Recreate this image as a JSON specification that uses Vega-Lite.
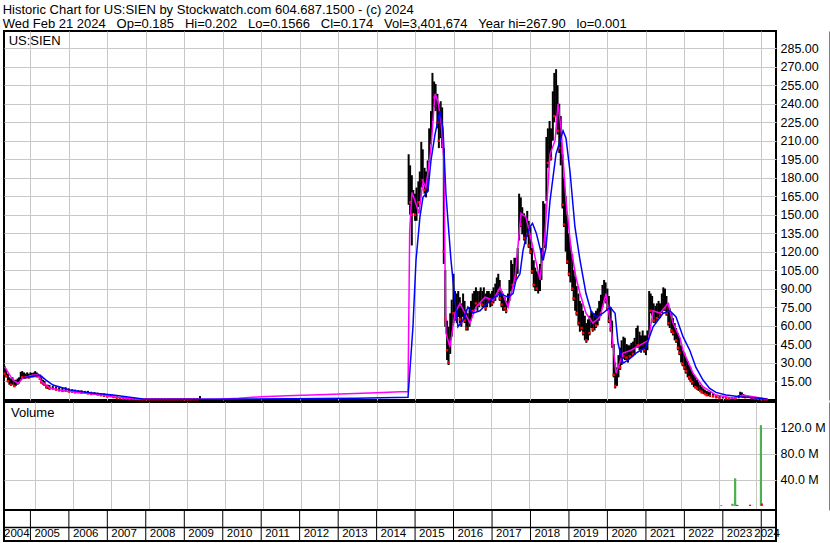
{
"$schema": "https://vega.github.io/schema/vega-lite/v6.json",
"padding": {"left": 0, "top": 4, "right": 0, "bottom": 0},
"autosize": {"type": "pad"},
"background": "white",
"spacing": 2,
"bounds": "flush",
"resolve": {"scale": {"color": "independent"}},
"title": {"text": ["Historic Chart for US:SIEN by Stockwatch.com 604.687.1500 - (c) 2024", "Wed Feb 21 2024\u00a0\u00a0\u00a0Op=0.185\u00a0\u00a0\u00a0Hi=0.202\u00a0\u00a0\u00a0Lo=0.1566\u00a0\u00a0\u00a0Cl=0.174\u00a0\u00a0\u00a0Vol=3,401,674\u00a0\u00a0\u00a0Year hi=267.90\u00a0\u00a0\u00a0lo=0.001"], "anchor": "start", "frame": "bounds", "fontSize": 13, "lineHeight": 14, "font": "Liberation Sans", "fontWeight": "normal", "color": "black", "offset": -1, "dx": 2},
"datasets": {
"bars": [
{"d":"2004-05-01","lo":19,"hi":27,"c":21,"dir":"down"},
{"d":"2004-05-15","lo":18,"hi":25,"c":19,"dir":"down"},
{"d":"2004-06-01","lo":14,"hi":21,"c":15,"dir":"down"},
{"d":"2004-06-15","lo":12,"hi":18,"c":17,"dir":"up"},
{"d":"2004-07-01","lo":11,"hi":17,"c":12,"dir":"down"},
{"d":"2004-07-15","lo":12,"hi":18,"c":17,"dir":"up"},
{"d":"2004-08-01","lo":10,"hi":16,"c":11,"dir":"down"},
{"d":"2004-08-15","lo":11,"hi":16,"c":15,"dir":"up"},
{"d":"2004-09-01","lo":12,"hi":17,"c":16,"dir":"up"},
{"d":"2004-09-15","lo":13,"hi":18,"c":17,"dir":"up"},
{"d":"2004-10-01","lo":16,"hi":22.5,"c":22,"dir":"up"},
{"d":"2004-10-15","lo":17,"hi":23,"c":18,"dir":"down"},
{"d":"2004-11-01","lo":17,"hi":22,"c":21,"dir":"up"},
{"d":"2004-11-15","lo":17,"hi":21,"c":18,"dir":"down"},
{"d":"2004-12-01","lo":18,"hi":22,"c":21,"dir":"up"},
{"d":"2004-12-15","lo":17,"hi":21,"c":18,"dir":"down"},
{"d":"2005-01-01","lo":18,"hi":22,"c":21,"dir":"up"},
{"d":"2005-01-15","lo":18,"hi":21.5,"c":19,"dir":"down"},
{"d":"2005-02-01","lo":18,"hi":22,"c":21,"dir":"up"},
{"d":"2005-02-15","lo":19,"hi":23,"c":22,"dir":"up"},
{"d":"2005-03-01","lo":18,"hi":22,"c":19,"dir":"down"},
{"d":"2005-03-15","lo":18,"hi":21,"c":20,"dir":"up"},
{"d":"2005-04-01","lo":16,"hi":20,"c":17,"dir":"down"},
{"d":"2005-04-15","lo":13,"hi":18,"c":14,"dir":"down"},
{"d":"2005-05-01","lo":12,"hi":16,"c":13,"dir":"down"},
{"d":"2005-05-15","lo":11,"hi":15,"c":12,"dir":"down"},
{"d":"2005-06-01","lo":9,"hi":12,"c":10,"dir":"down"},
{"d":"2005-06-15","lo":8.5,"hi":12,"c":11,"dir":"up"},
{"d":"2005-07-01","lo":8,"hi":11.7,"c":9,"dir":"down"},
{"d":"2005-08-01","lo":8,"hi":11,"c":10,"dir":"up"},
{"d":"2005-09-01","lo":7.5,"hi":10.5,"c":8,"dir":"down"},
{"d":"2005-10-01","lo":6.5,"hi":10,"c":9,"dir":"up"},
{"d":"2005-11-01","lo":6.3,"hi":9.5,"c":7,"dir":"down"},
{"d":"2005-12-01","lo":6.3,"hi":10,"c":9,"dir":"up"},
{"d":"2006-01-01","lo":6,"hi":9,"c":6.5,"dir":"down"},
{"d":"2006-02-01","lo":5.5,"hi":8.3,"c":7.5,"dir":"up"},
{"d":"2006-03-01","lo":5.3,"hi":8,"c":5.8,"dir":"down"},
{"d":"2006-04-01","lo":5,"hi":7.5,"c":7,"dir":"up"},
{"d":"2006-05-01","lo":5,"hi":7.5,"c":5.5,"dir":"down"},
{"d":"2006-06-01","lo":4.8,"hi":7,"c":6.5,"dir":"up"},
{"d":"2006-07-01","lo":4.5,"hi":7,"c":5,"dir":"down"},
{"d":"2006-08-01","lo":4,"hi":6.3,"c":4.5,"dir":"down"},
{"d":"2006-09-01","lo":3.8,"hi":6,"c":5.5,"dir":"up"},
{"d":"2006-10-01","lo":3.6,"hi":5.5,"c":4,"dir":"down"},
{"d":"2006-11-01","lo":3.2,"hi":5.3,"c":3.5,"dir":"down"},
{"d":"2006-12-01","lo":2.5,"hi":5,"c":3,"dir":"down"},
{"d":"2007-01-01","lo":2,"hi":4.5,"c":2.5,"dir":"down"},
{"d":"2007-02-01","lo":1.8,"hi":4,"c":3.5,"dir":"up"},
{"d":"2007-03-01","lo":1.5,"hi":3.5,"c":2,"dir":"down"},
{"d":"2007-04-01","lo":1,"hi":2.5,"c":1.2,"dir":"down"},
{"d":"2007-05-01","lo":0.8,"hi":2,"c":1,"dir":"down"},
{"d":"2007-06-01","lo":0.5,"hi":1.8,"c":0.7,"dir":"down"},
{"d":"2007-07-01","lo":0.4,"hi":1.5,"c":0.5,"dir":"down"},
{"d":"2007-08-01","lo":0.3,"hi":1.2,"c":0.4,"dir":"down"},
{"d":"2007-09-01","lo":0.2,"hi":0.9,"c":0.3,"dir":"down"},
{"d":"2007-10-01","lo":0.2,"hi":0.7,"c":0.25,"dir":"down"},
{"d":"2007-11-01","lo":0.15,"hi":0.6,"c":0.2,"dir":"down"},
{"d":"2007-12-01","lo":0.1,"hi":0.5,"c":0.15,"dir":"down"},
{"d":"2008-01-01","lo":0.1,"hi":0.4,"c":0.2,"dir":"down"},
{"d":"2008-02-01","lo":0.1,"hi":0.4,"c":0.2,"dir":"down"},
{"d":"2008-03-01","lo":0.1,"hi":0.35,"c":0.2,"dir":"down"},
{"d":"2008-04-01","lo":0.1,"hi":0.35,"c":0.2,"dir":"down"},
{"d":"2008-05-01","lo":0.1,"hi":0.35,"c":0.2,"dir":"down"},
{"d":"2008-06-01","lo":0.1,"hi":0.35,"c":0.2,"dir":"down"},
{"d":"2008-07-01","lo":0.1,"hi":0.35,"c":0.2,"dir":"down"},
{"d":"2008-08-01","lo":0.1,"hi":0.35,"c":0.2,"dir":"down"},
{"d":"2008-09-01","lo":0.1,"hi":0.35,"c":0.2,"dir":"down"},
{"d":"2008-10-01","lo":0.1,"hi":0.35,"c":0.2,"dir":"down"},
{"d":"2008-11-01","lo":0.1,"hi":0.35,"c":0.2,"dir":"down"},
{"d":"2008-12-01","lo":0.1,"hi":0.35,"c":0.2,"dir":"down"},
{"d":"2009-01-01","lo":0.1,"hi":0.35,"c":0.2,"dir":"down"},
{"d":"2009-02-01","lo":0.1,"hi":0.35,"c":0.2,"dir":"down"},
{"d":"2009-03-01","lo":0.1,"hi":0.35,"c":0.2,"dir":"down"},
{"d":"2009-04-01","lo":0.1,"hi":0.35,"c":0.2,"dir":"down"},
{"d":"2009-05-01","lo":0.1,"hi":0.35,"c":0.2,"dir":"down"},
{"d":"2009-05-30","lo":0.2,"hi":2.8,"c":0.3,"dir":"up"},
{"d":"2014-11-01","lo":158,"hi":199,"c":180,"dir":"up"},
{"d":"2014-11-15","lo":150,"hi":190,"c":160,"dir":"down"},
{"d":"2014-12-01","lo":125,"hi":182,"c":150,"dir":"down"},
{"d":"2014-12-15","lo":151,"hi":170,"c":165,"dir":"up"},
{"d":"2015-01-01","lo":145,"hi":167,"c":150,"dir":"down"},
{"d":"2015-01-15","lo":145,"hi":172,"c":168,"dir":"up"},
{"d":"2015-02-01","lo":156,"hi":177,"c":160,"dir":"down"},
{"d":"2015-02-15","lo":161,"hi":185,"c":182,"dir":"up"},
{"d":"2015-03-01","lo":172,"hi":209,"c":200,"dir":"up"},
{"d":"2015-03-15","lo":174,"hi":203,"c":178,"dir":"down"},
{"d":"2015-04-01","lo":167,"hi":188,"c":170,"dir":"down"},
{"d":"2015-04-15","lo":164,"hi":185,"c":180,"dir":"up"},
{"d":"2015-05-01","lo":169,"hi":194,"c":190,"dir":"up"},
{"d":"2015-05-15","lo":194,"hi":220,"c":215,"dir":"up"},
{"d":"2015-06-01","lo":207,"hi":234,"c":230,"dir":"up"},
{"d":"2015-06-15","lo":226,"hi":265,"c":255,"dir":"up"},
{"d":"2015-07-01","lo":237,"hi":258,"c":245,"dir":"down"},
{"d":"2015-07-15","lo":234,"hi":256,"c":252,"dir":"up"},
{"d":"2015-08-01","lo":220,"hi":248,"c":225,"dir":"down"},
{"d":"2015-08-15","lo":204,"hi":240,"c":210,"dir":"down"},
{"d":"2015-09-01","lo":212,"hi":242,"c":235,"dir":"up"},
{"d":"2015-09-15","lo":204,"hi":237,"c":206,"dir":"down"},
{"d":"2015-10-01","lo":110,"hi":204,"c":120,"dir":"down"},
{"d":"2015-10-15","lo":59,"hi":105,"c":65,"dir":"down"},
{"d":"2015-11-01","lo":32,"hi":64,"c":40,"dir":"down"},
{"d":"2015-11-15","lo":28,"hi":59,"c":30,"dir":"down"},
{"d":"2015-12-01","lo":37,"hi":70,"c":62,"dir":"up"},
{"d":"2015-12-15","lo":51,"hi":81,"c":75,"dir":"up"},
{"d":"2016-01-01","lo":62,"hi":102,"c":70,"dir":"down"},
{"d":"2016-01-15","lo":64,"hi":88,"c":80,"dir":"up"},
{"d":"2016-02-01","lo":62,"hi":86,"c":66,"dir":"down"},
{"d":"2016-02-15","lo":67,"hi":88,"c":84,"dir":"up"},
{"d":"2016-03-01","lo":62,"hi":83,"c":65,"dir":"down"},
{"d":"2016-03-15","lo":59,"hi":78,"c":62,"dir":"down"},
{"d":"2016-04-01","lo":67,"hi":86,"c":82,"dir":"up"},
{"d":"2016-04-15","lo":62,"hi":80,"c":64,"dir":"down"},
{"d":"2016-05-01","lo":56,"hi":73,"c":58,"dir":"down"},
{"d":"2016-05-15","lo":56,"hi":70,"c":66,"dir":"up"},
{"d":"2016-06-01","lo":59,"hi":75,"c":72,"dir":"up"},
{"d":"2016-06-15","lo":64,"hi":80,"c":78,"dir":"up"},
{"d":"2016-07-01","lo":70,"hi":86,"c":72,"dir":"down"},
{"d":"2016-07-15","lo":72,"hi":88,"c":86,"dir":"up"},
{"d":"2016-08-01","lo":75,"hi":91,"c":78,"dir":"down"},
{"d":"2016-08-15","lo":72,"hi":88,"c":85,"dir":"up"},
{"d":"2016-09-01","lo":75,"hi":88,"c":77,"dir":"down"},
{"d":"2016-09-15","lo":78,"hi":91,"c":89,"dir":"up"},
{"d":"2016-10-01","lo":75,"hi":88,"c":77,"dir":"down"},
{"d":"2016-10-15","lo":75,"hi":91,"c":88,"dir":"up"},
{"d":"2016-11-01","lo":72,"hi":86,"c":74,"dir":"down"},
{"d":"2016-11-15","lo":75,"hi":88,"c":86,"dir":"up"},
{"d":"2016-12-01","lo":78,"hi":88,"c":80,"dir":"down"},
{"d":"2016-12-15","lo":75,"hi":86,"c":84,"dir":"up"},
{"d":"2017-01-01","lo":76,"hi":88,"c":78,"dir":"down"},
{"d":"2017-01-15","lo":78,"hi":91,"c":89,"dir":"up"},
{"d":"2017-02-01","lo":80,"hi":94,"c":92,"dir":"up"},
{"d":"2017-02-15","lo":83,"hi":99,"c":97,"dir":"up"},
{"d":"2017-03-01","lo":86,"hi":102,"c":88,"dir":"down"},
{"d":"2017-03-15","lo":80,"hi":97,"c":82,"dir":"down"},
{"d":"2017-04-01","lo":75,"hi":88,"c":77,"dir":"down"},
{"d":"2017-04-15","lo":72,"hi":86,"c":84,"dir":"up"},
{"d":"2017-05-01","lo":72,"hi":83,"c":74,"dir":"down"},
{"d":"2017-05-15","lo":70,"hi":80,"c":72,"dir":"down"},
{"d":"2017-06-01","lo":75,"hi":86,"c":84,"dir":"up"},
{"d":"2017-06-15","lo":80,"hi":97,"c":95,"dir":"up"},
{"d":"2017-07-01","lo":88,"hi":113,"c":108,"dir":"up"},
{"d":"2017-07-15","lo":91,"hi":110,"c":93,"dir":"down"},
{"d":"2017-08-01","lo":94,"hi":115,"c":112,"dir":"up"},
{"d":"2017-08-15","lo":97,"hi":115,"c":99,"dir":"down"},
{"d":"2017-09-01","lo":102,"hi":123,"c":120,"dir":"up"},
{"d":"2017-09-15","lo":129,"hi":167,"c":160,"dir":"up"},
{"d":"2017-10-01","lo":140,"hi":164,"c":142,"dir":"down"},
{"d":"2017-10-15","lo":134,"hi":156,"c":150,"dir":"up"},
{"d":"2017-11-01","lo":129,"hi":151,"c":131,"dir":"down"},
{"d":"2017-11-15","lo":126,"hi":148,"c":145,"dir":"up"},
{"d":"2017-12-01","lo":132,"hi":153,"c":134,"dir":"down"},
{"d":"2017-12-15","lo":123,"hi":145,"c":125,"dir":"down"},
{"d":"2018-01-01","lo":118,"hi":140,"c":120,"dir":"down"},
{"d":"2018-01-15","lo":102,"hi":123,"c":104,"dir":"down"},
{"d":"2018-02-01","lo":91,"hi":113,"c":93,"dir":"down"},
{"d":"2018-02-15","lo":88,"hi":107,"c":104,"dir":"up"},
{"d":"2018-03-01","lo":88,"hi":104,"c":90,"dir":"down"},
{"d":"2018-03-15","lo":86,"hi":102,"c":100,"dir":"up"},
{"d":"2018-04-01","lo":88,"hi":110,"c":108,"dir":"up"},
{"d":"2018-04-15","lo":97,"hi":123,"c":120,"dir":"up"},
{"d":"2018-05-01","lo":113,"hi":161,"c":155,"dir":"up"},
{"d":"2018-05-15","lo":123,"hi":159,"c":126,"dir":"down"},
{"d":"2018-06-01","lo":161,"hi":213,"c":208,"dir":"up"},
{"d":"2018-06-15","lo":188,"hi":220,"c":192,"dir":"down"},
{"d":"2018-07-01","lo":194,"hi":226,"c":222,"dir":"up"},
{"d":"2018-07-15","lo":194,"hi":220,"c":196,"dir":"down"},
{"d":"2018-08-01","lo":210,"hi":250,"c":245,"dir":"up"},
{"d":"2018-08-15","lo":225,"hi":265,"c":230,"dir":"down"},
{"d":"2018-09-01","lo":230,"hi":268,"c":260,"dir":"up"},
{"d":"2018-09-15","lo":215,"hi":255,"c":218,"dir":"down"},
{"d":"2018-10-01","lo":200,"hi":240,"c":204,"dir":"down"},
{"d":"2018-10-15","lo":190,"hi":230,"c":226,"dir":"up"},
{"d":"2018-11-01","lo":155,"hi":199,"c":158,"dir":"down"},
{"d":"2018-11-15","lo":140,"hi":180,"c":142,"dir":"down"},
{"d":"2018-12-01","lo":120,"hi":165,"c":160,"dir":"up"},
{"d":"2018-12-15","lo":110,"hi":150,"c":112,"dir":"down"},
{"d":"2019-01-01","lo":100,"hi":135,"c":102,"dir":"down"},
{"d":"2019-01-15","lo":95,"hi":125,"c":122,"dir":"up"},
{"d":"2019-02-01","lo":88,"hi":118,"c":90,"dir":"down"},
{"d":"2019-02-15","lo":80,"hi":105,"c":82,"dir":"down"},
{"d":"2019-03-01","lo":72,"hi":100,"c":97,"dir":"up"},
{"d":"2019-03-15","lo":68,"hi":92,"c":70,"dir":"down"},
{"d":"2019-04-01","lo":60,"hi":86,"c":62,"dir":"down"},
{"d":"2019-04-15","lo":55,"hi":80,"c":78,"dir":"up"},
{"d":"2019-05-01","lo":56,"hi":78,"c":58,"dir":"down"},
{"d":"2019-05-15","lo":52,"hi":72,"c":54,"dir":"down"},
{"d":"2019-06-01","lo":48,"hi":68,"c":66,"dir":"up"},
{"d":"2019-06-15","lo":46,"hi":62,"c":48,"dir":"down"},
{"d":"2019-07-01","lo":48,"hi":65,"c":63,"dir":"up"},
{"d":"2019-07-15","lo":52,"hi":68,"c":54,"dir":"down"},
{"d":"2019-08-01","lo":58,"hi":72,"c":70,"dir":"up"},
{"d":"2019-08-15","lo":55,"hi":70,"c":57,"dir":"down"},
{"d":"2019-09-01","lo":56,"hi":70,"c":68,"dir":"up"},
{"d":"2019-09-15","lo":58,"hi":72,"c":60,"dir":"down"},
{"d":"2019-10-01","lo":60,"hi":74,"c":72,"dir":"up"},
{"d":"2019-10-15","lo":64,"hi":80,"c":78,"dir":"up"},
{"d":"2019-11-01","lo":68,"hi":85,"c":70,"dir":"down"},
{"d":"2019-11-15","lo":75,"hi":93,"c":91,"dir":"up"},
{"d":"2019-12-01","lo":80,"hi":97,"c":95,"dir":"up"},
{"d":"2019-12-15","lo":78,"hi":95,"c":80,"dir":"down"},
{"d":"2020-01-01","lo":72,"hi":90,"c":74,"dir":"down"},
{"d":"2020-01-15","lo":62,"hi":84,"c":64,"dir":"down"},
{"d":"2020-02-01","lo":55,"hi":75,"c":57,"dir":"down"},
{"d":"2020-02-15","lo":42,"hi":64,"c":44,"dir":"down"},
{"d":"2020-03-01","lo":18,"hi":45,"c":20,"dir":"down"},
{"d":"2020-03-15","lo":9,"hi":30,"c":11,"dir":"down"},
{"d":"2020-04-01","lo":11,"hi":26,"c":24,"dir":"up"},
{"d":"2020-04-15","lo":18,"hi":36,"c":34,"dir":"up"},
{"d":"2020-05-01","lo":24,"hi":42,"c":26,"dir":"down"},
{"d":"2020-05-15","lo":28,"hi":48,"c":46,"dir":"up"},
{"d":"2020-06-01","lo":33,"hi":51,"c":35,"dir":"down"},
{"d":"2020-06-15","lo":32,"hi":50,"c":48,"dir":"up"},
{"d":"2020-07-01","lo":32,"hi":45,"c":34,"dir":"down"},
{"d":"2020-07-15","lo":30,"hi":44,"c":42,"dir":"up"},
{"d":"2020-08-01","lo":33,"hi":44,"c":35,"dir":"down"},
{"d":"2020-08-15","lo":34,"hi":46,"c":44,"dir":"up"},
{"d":"2020-09-01","lo":35,"hi":47,"c":37,"dir":"down"},
{"d":"2020-09-15","lo":36,"hi":50,"c":48,"dir":"up"},
{"d":"2020-10-01","lo":42,"hi":58,"c":56,"dir":"up"},
{"d":"2020-10-15","lo":42,"hi":60,"c":44,"dir":"down"},
{"d":"2020-11-01","lo":40,"hi":55,"c":53,"dir":"up"},
{"d":"2020-11-15","lo":38,"hi":52,"c":40,"dir":"down"},
{"d":"2020-12-01","lo":40,"hi":56,"c":54,"dir":"up"},
{"d":"2020-12-15","lo":38,"hi":52,"c":40,"dir":"down"},
{"d":"2021-01-01","lo":36,"hi":52,"c":50,"dir":"up"},
{"d":"2021-01-15","lo":40,"hi":56,"c":54,"dir":"up"},
{"d":"2021-02-01","lo":52,"hi":88,"c":84,"dir":"up"},
{"d":"2021-02-15","lo":70,"hi":86,"c":72,"dir":"down"},
{"d":"2021-03-01","lo":68,"hi":84,"c":82,"dir":"up"},
{"d":"2021-03-15","lo":62,"hi":78,"c":64,"dir":"down"},
{"d":"2021-04-01","lo":62,"hi":76,"c":74,"dir":"up"},
{"d":"2021-04-15","lo":64,"hi":78,"c":66,"dir":"down"},
{"d":"2021-05-01","lo":66,"hi":80,"c":78,"dir":"up"},
{"d":"2021-05-15","lo":66,"hi":78,"c":68,"dir":"down"},
{"d":"2021-06-01","lo":70,"hi":86,"c":84,"dir":"up"},
{"d":"2021-06-15","lo":72,"hi":91,"c":88,"dir":"up"},
{"d":"2021-07-01","lo":72,"hi":90,"c":74,"dir":"down"},
{"d":"2021-07-15","lo":68,"hi":84,"c":70,"dir":"down"},
{"d":"2021-08-01","lo":60,"hi":78,"c":62,"dir":"down"},
{"d":"2021-08-15","lo":58,"hi":74,"c":72,"dir":"up"},
{"d":"2021-09-01","lo":54,"hi":70,"c":56,"dir":"down"},
{"d":"2021-09-15","lo":52,"hi":66,"c":54,"dir":"down"},
{"d":"2021-10-01","lo":48,"hi":62,"c":60,"dir":"up"},
{"d":"2021-10-15","lo":46,"hi":58,"c":48,"dir":"down"},
{"d":"2021-11-01","lo":40,"hi":54,"c":42,"dir":"down"},
{"d":"2021-11-15","lo":36,"hi":50,"c":38,"dir":"down"},
{"d":"2021-12-01","lo":30,"hi":44,"c":42,"dir":"up"},
{"d":"2021-12-15","lo":27,"hi":40,"c":29,"dir":"down"},
{"d":"2022-01-01","lo":24,"hi":38,"c":26,"dir":"down"},
{"d":"2022-01-15","lo":21,"hi":34,"c":23,"dir":"down"},
{"d":"2022-02-01","lo":18,"hi":31,"c":29,"dir":"up"},
{"d":"2022-02-15","lo":16,"hi":28,"c":18,"dir":"down"},
{"d":"2022-03-01","lo":14,"hi":26,"c":16,"dir":"down"},
{"d":"2022-03-15","lo":12,"hi":23,"c":14,"dir":"down"},
{"d":"2022-04-01","lo":10,"hi":20,"c":18,"dir":"up"},
{"d":"2022-04-15","lo":9,"hi":18,"c":10,"dir":"down"},
{"d":"2022-05-01","lo":8,"hi":16,"c":9,"dir":"down"},
{"d":"2022-05-15","lo":7,"hi":14,"c":13,"dir":"up"},
{"d":"2022-06-01","lo":6,"hi":12,"c":7,"dir":"down"},
{"d":"2022-06-15","lo":5,"hi":10.5,"c":6,"dir":"down"},
{"d":"2022-07-01","lo":4.5,"hi":9,"c":8,"dir":"up"},
{"d":"2022-07-15","lo":4,"hi":8,"c":4.5,"dir":"down"},
{"d":"2022-08-01","lo":3,"hi":7,"c":3.5,"dir":"down"},
{"d":"2022-08-15","lo":2.8,"hi":6.5,"c":6,"dir":"up"},
{"d":"2022-09-01","lo":2.5,"hi":6,"c":3,"dir":"down"},
{"d":"2022-10-01","lo":2,"hi":5,"c":2.5,"dir":"down"},
{"d":"2022-11-01","lo":1.5,"hi":3.6,"c":1.8,"dir":"down"},
{"d":"2022-12-01","lo":1,"hi":3,"c":1.2,"dir":"down"},
{"d":"2023-01-01","lo":0.8,"hi":2.5,"c":2.2,"dir":"up"},
{"d":"2023-02-01","lo":0.6,"hi":2.2,"c":0.8,"dir":"down"},
{"d":"2023-03-01","lo":0.5,"hi":2,"c":0.7,"dir":"down"},
{"d":"2023-04-01","lo":0.5,"hi":1.8,"c":1.6,"dir":"up"},
{"d":"2023-05-01","lo":0.6,"hi":2.2,"c":0.8,"dir":"down"},
{"d":"2023-06-01","lo":1,"hi":3.6,"c":3.3,"dir":"up"},
{"d":"2023-06-15","lo":2.3,"hi":6.3,"c":5.8,"dir":"up"},
{"d":"2023-07-01","lo":2.3,"hi":5.8,"c":2.6,"dir":"down"},
{"d":"2023-07-15","lo":2,"hi":4.5,"c":2.2,"dir":"down"},
{"d":"2023-08-01","lo":1.5,"hi":3.6,"c":1.8,"dir":"down"},
{"d":"2023-09-01","lo":1.2,"hi":3,"c":2.7,"dir":"up"},
{"d":"2023-10-01","lo":1,"hi":2.6,"c":1.2,"dir":"down"},
{"d":"2023-11-01","lo":0.6,"hi":2.2,"c":0.8,"dir":"down"},
{"d":"2023-12-01","lo":0.4,"hi":1.5,"c":0.5,"dir":"down"},
{"d":"2024-01-01","lo":0.2,"hi":0.9,"c":0.3,"dir":"down"},
{"d":"2024-02-01","lo":0.15,"hi":0.5,"c":0.2,"dir":"down"},
{"d":"2024-02-21","lo":0.1566,"hi":0.202,"c":0.174,"dir":"down"}
],
"ma": [
{"d":"2004-05-01","s":"fast","v":26.5},{"d":"2004-07-19","s":"fast","v":15.8},{"d":"2004-09-05","s":"fast","v":13},{"d":"2004-10-22","s":"fast","v":17.4},{"d":"2005-01-26","s":"fast","v":19.8},{"d":"2005-03-14","s":"fast","v":19.8},{"d":"2005-04-12","s":"fast","v":15},{"d":"2005-07-06","s":"fast","v":9.3},{"d":"2005-11-06","s":"fast","v":7.1},{"d":"2006-06-12","s":"fast","v":5},{"d":"2006-11-21","s":"fast","v":3.6},{"d":"2007-03-24","s":"fast","v":1.8},{"d":"2007-09-30","s":"fast","v":0.4},{"d":"2009-05-30","s":"fast","v":0.2},{"d":"2009-11-17","s":"fast","v":0.3},{"d":"2010-06-01","s":"fast","v":1.0},{"d":"2011-01-01","s":"fast","v":2.3},{"d":"2011-09-01","s":"fast","v":3.1},{"d":"2012-07-01","s":"fast","v":3.9},{"d":"2013-04-01","s":"fast","v":4.7},{"d":"2014-01-01","s":"fast","v":5.5},{"d":"2014-08-15","s":"fast","v":6.3},{"d":"2014-10-26","s":"fast","v":6.3},{"d":"2014-11-11","s":"fast","v":137},{"d":"2014-12-02","s":"fast","v":168},{"d":"2015-01-01","s":"fast","v":161},{"d":"2015-02-07","s":"fast","v":151},{"d":"2015-03-17","s":"fast","v":177},{"d":"2015-04-14","s":"fast","v":172},{"d":"2015-06-01","s":"fast","v":204},{"d":"2015-07-09","s":"fast","v":248},{"d":"2015-08-06","s":"fast","v":242},{"d":"2015-09-04","s":"fast","v":226},{"d":"2015-10-02","s":"fast","v":194},{"d":"2015-10-12","s":"fast","v":113},{"d":"2015-10-21","s":"fast","v":54},{"d":"2015-11-28","s":"fast","v":42.6},{"d":"2016-01-15","s":"fast","v":70},{"d":"2016-03-02","s":"fast","v":78},{"d":"2016-04-19","s":"fast","v":70},{"d":"2016-06-05","s":"fast","v":62},{"d":"2016-08-01","s":"fast","v":75},{"d":"2016-10-26","s":"fast","v":83},{"d":"2017-01-11","s":"fast","v":80.5},{"d":"2017-03-18","s":"fast","v":91},{"d":"2017-06-02","s":"fast","v":75},{"d":"2017-08-07","s":"fast","v":99},{"d":"2017-10-03","s":"fast","v":151},{"d":"2017-11-19","s":"fast","v":148},{"d":"2018-01-25","s":"fast","v":123},{"d":"2018-04-01","s":"fast","v":97},{"d":"2018-05-19","s":"fast","v":135},{"d":"2018-07-05","s":"fast","v":199},{"d":"2018-08-22","s":"fast","v":210},{"d":"2018-09-19","s":"fast","v":240},{"d":"2018-10-18","s":"fast","v":220},{"d":"2018-12-04","s":"fast","v":161},{"d":"2019-01-20","s":"fast","v":123},{"d":"2019-03-09","s":"fast","v":99},{"d":"2019-04-16","s":"fast","v":86},{"d":"2019-06-12","s":"fast","v":70},{"d":"2019-08-17","s":"fast","v":62},{"d":"2019-10-23","s":"fast","v":67},{"d":"2019-12-19","s":"fast","v":86},{"d":"2020-02-04","s":"fast","v":59},{"d":"2020-03-23","s":"fast","v":21.4},{"d":"2020-05-29","s":"fast","v":37.6},{"d":"2020-08-13","s":"fast","v":40},{"d":"2020-12-05","s":"fast","v":45.6},{"d":"2021-01-25","s":"fast","v":48},{"d":"2021-03-10","s":"fast","v":72},{"d":"2021-05-15","s":"fast","v":70},{"d":"2021-07-30","s":"fast","v":78},{"d":"2021-09-15","s":"fast","v":62},{"d":"2021-11-21","s":"fast","v":50},{"d":"2021-12-19","s":"fast","v":40},{"d":"2022-03-24","s":"fast","v":21.4},{"d":"2022-06-27","s":"fast","v":10.4},{"d":"2022-10-28","s":"fast","v":3.6},{"d":"2023-04-08","s":"fast","v":1},{"d":"2023-07-11","s":"fast","v":3.6},{"d":"2023-10-14","s":"fast","v":2.3},{"d":"2024-02-21","s":"fast","v":0.4},
{"d":"2004-10-22","s":"slow","v":17.4},{"d":"2005-04-02","s":"slow","v":19.8},{"d":"2005-05-29","s":"slow","v":15.8},{"d":"2005-08-03","s":"slow","v":11.7},{"d":"2006-01-12","s":"slow","v":7.7},{"d":"2006-07-20","s":"slow","v":5.5},{"d":"2007-02-24","s":"slow","v":3.6},{"d":"2007-08-04","s":"slow","v":1.8},{"d":"2007-12-05","s":"slow","v":0.4},{"d":"2009-05-30","s":"slow","v":0.2},{"d":"2010-11-03","s":"slow","v":0.4},{"d":"2013-06-19","s":"slow","v":1.0},{"d":"2014-10-26","s":"slow","v":1.8},{"d":"2014-12-12","s":"slow","v":59},{"d":"2015-01-10","s":"slow","v":113},{"d":"2015-02-16","s":"slow","v":148},{"d":"2015-03-17","s":"slow","v":164},{"d":"2015-05-03","s":"slow","v":169},{"d":"2015-06-01","s":"slow","v":194},{"d":"2015-07-09","s":"slow","v":215},{"d":"2015-08-25","s":"slow","v":234},{"d":"2015-09-23","s":"slow","v":220},{"d":"2015-10-21","s":"slow","v":167},{"d":"2015-12-08","s":"slow","v":113},{"d":"2016-01-15","s":"slow","v":80.6},{"d":"2016-02-12","s":"slow","v":59},{"d":"2016-03-31","s":"slow","v":64.5},{"d":"2016-05-17","s":"slow","v":75},{"d":"2016-07-03","s":"slow","v":70},{"d":"2016-09-08","s":"slow","v":72},{"d":"2016-12-12","s":"slow","v":80.5},{"d":"2017-03-18","s":"slow","v":86},{"d":"2017-06-02","s":"slow","v":83},{"d":"2017-07-19","s":"slow","v":86},{"d":"2017-08-16","s":"slow","v":96.6},{"d":"2017-09-23","s":"slow","v":102},{"d":"2017-10-22","s":"slow","v":121},{"d":"2017-11-19","s":"slow","v":131},{"d":"2017-12-27","s":"slow","v":140},{"d":"2018-01-20","s":"slow","v":143},{"d":"2018-02-25","s":"slow","v":135},{"d":"2018-04-30","s":"slow","v":113},{"d":"2018-05-28","s":"slow","v":123},{"d":"2018-07-05","s":"slow","v":161},{"d":"2018-08-31","s":"slow","v":199},{"d":"2018-11-06","s":"slow","v":218},{"d":"2018-12-04","s":"slow","v":212},{"d":"2019-01-11","s":"slow","v":185},{"d":"2019-02-27","s":"slow","v":140},{"d":"2019-04-16","s":"slow","v":113},{"d":"2019-06-12","s":"slow","v":86},{"d":"2019-07-29","s":"slow","v":72},{"d":"2019-09-15","s":"slow","v":67},{"d":"2019-11-20","s":"slow","v":70},{"d":"2020-01-26","s":"slow","v":75},{"d":"2020-03-14","s":"slow","v":70},{"d":"2020-04-11","s":"slow","v":45.6},{"d":"2020-05-29","s":"slow","v":29.5},{"d":"2020-07-15","s":"slow","v":32},{"d":"2020-09-29","s":"slow","v":37.6},{"d":"2021-01-01","s":"slow","v":42.6},{"d":"2021-03-10","s":"slow","v":59},{"d":"2021-06-13","s":"slow","v":70},{"d":"2021-08-18","s":"slow","v":72},{"d":"2021-10-14","s":"slow","v":67},{"d":"2021-12-19","s":"slow","v":51},{"d":"2022-02-21","s":"slow","v":40},{"d":"2022-04-21","s":"slow","v":26},{"d":"2022-06-27","s":"slow","v":15.8},{"d":"2022-08-29","s":"slow","v":9},{"d":"2022-10-28","s":"slow","v":5.8},{"d":"2023-01-31","s":"slow","v":3.6},{"d":"2023-06-13","s":"slow","v":2.3},{"d":"2023-12-20","s":"slow","v":1},{"d":"2024-02-21","s":"slow","v":0.4}
],
"vol": [
{"d":"2023-01-28","vol":1000000,"dir":"up"},
{"d":"2023-05-15","vol":3000000,"dir":"up"},
{"d":"2023-06-10","vol":42000000,"dir":"up"},
{"d":"2023-06-22","vol":1500000,"dir":"up"},
{"d":"2023-07-01","vol":1200000,"dir":"down"},
{"d":"2023-11-01","vol":1500000,"dir":"down"},
{"d":"2024-02-13","vol":124000000,"dir":"up"},
{"d":"2024-02-21","vol":3401674,"dir":"down"}
],
"years": [
{"d":"2004-01-01","yr":"2004"},{"d":"2005-01-01","yr":"2005"},{"d":"2006-01-01","yr":"2006"},{"d":"2007-01-01","yr":"2007"},{"d":"2008-01-01","yr":"2008"},{"d":"2009-01-01","yr":"2009"},{"d":"2010-01-01","yr":"2010"},{"d":"2011-01-01","yr":"2011"},{"d":"2012-01-01","yr":"2012"},{"d":"2013-01-01","yr":"2013"},{"d":"2014-01-01","yr":"2014"},{"d":"2015-01-01","yr":"2015"},{"d":"2016-01-01","yr":"2016"},{"d":"2017-01-01","yr":"2017"},{"d":"2018-01-01","yr":"2018"},{"d":"2019-01-01","yr":"2019"},{"d":"2020-01-01","yr":"2020"},{"d":"2021-01-01","yr":"2021"},{"d":"2022-01-01","yr":"2022"},{"d":"2023-01-01","yr":"2023"},{"d":"2024-01-01","yr":"2024"}
]
},
"vconcat": [
{
"width": 772, "height": 369,
"title": {"text": "US:SIEN", "anchor": "start", "offset": -17, "dx": 7, "fontSize": 13, "fontWeight": "normal", "color": "black", "font": "Liberation Sans"},
"resolve": {"axis": {"y": "independent"}},
"layer": [
{"data": {"name": "bars"}, "mark": {"type": "rule", "color": "black", "strokeWidth": 2},
 "encoding": {
  "x": {"field": "d", "type": "temporal", "scale": {"type": "utc", "domain": [{"year": 2004, "month": 4, "date": 25, "utc": true}, {"year": 2024, "month": 5, "date": 20, "utc": true}], "clamp": true},
        "axis": {"values": [{"year":2005,"utc":true},{"year":2006,"utc":true},{"year":2007,"utc":true},{"year":2008,"utc":true},{"year":2009,"utc":true},{"year":2010,"utc":true},{"year":2011,"utc":true},{"year":2012,"utc":true},{"year":2013,"utc":true},{"year":2014,"utc":true},{"year":2015,"utc":true},{"year":2016,"utc":true},{"year":2017,"utc":true},{"year":2018,"utc":true},{"year":2019,"utc":true},{"year":2020,"utc":true},{"year":2021,"utc":true},{"year":2022,"utc":true},{"year":2023,"utc":true},{"year":2024,"utc":true}], "grid": true, "labels": false, "ticks": false, "domain": false, "title": null}},
  "y": {"field": "lo", "type": "quantitative", "scale": {"domain": [-0.4, 299], "nice": false, "zero": false},
        "axis": {"orient": "right", "values": [15,45,75,105,135,165,195,225,255,285], "format": ".2f", "grid": true, "ticks": false, "domain": false, "labelPadding": 4, "labelFontSize": 12.5, "labelOverlap": false, "title": null}},
  "y2": {"field": "hi"}
 }},
{"data": {"name": "bars"}, "transform": [{"filter": "datum.dir === 'down'"}], "mark": {"type": "square", "color": "#ff0000", "size": 6, "opacity": 1},
 "encoding": {"x": {"field": "d", "type": "temporal"}, "y": {"field": "c", "type": "quantitative",
   "axis": {"orient": "right", "values": [30,60,90,120,150,180,210,240,270], "format": ".2f", "grid": true, "ticks": false, "domain": false, "labelPadding": 4, "labelFontSize": 12.5, "labelOverlap": false, "title": null}}}},
{"data": {"name": "ma"}, "mark": {"type": "line", "strokeWidth": 1.5},
 "encoding": {"x": {"field": "d", "type": "temporal"}, "y": {"field": "v", "type": "quantitative",
   "axis": {"orient": "right", "offset": 54, "labels": false, "ticks": false, "grid": false, "domain": true, "domainColor": "black", "domainWidth": 2, "title": null}},
  "color": {"field": "s", "type": "nominal", "scale": {"domain": ["slow", "fast"], "range": ["#0000ff", "#ff00ff"]}, "legend": null}}}
]
},
{
"spacing": 0,
"bounds": "flush",
"resolve": {"scale": {"color": "independent"}},
"vconcat": [
{
"width": 772, "height": 108,
"title": {"text": "Volume", "anchor": "start", "offset": -18, "dx": 7, "fontSize": 13, "fontWeight": "normal", "color": "black", "font": "Liberation Sans"},
"data": {"name": "vol"},
"resolve": {"axis": {"y": "independent"}},
"layer": [
{"mark": {"type": "bar", "width": 2},
 "encoding": {
  "x": {"field": "d", "type": "temporal", "scale": {"type": "utc", "domain": [{"year": 2004, "month": 4, "date": 25, "utc": true}, {"year": 2024, "month": 5, "date": 20, "utc": true}], "clamp": true},
       "axis": {"values": [{"year":2005,"utc":true},{"year":2006,"utc":true},{"year":2007,"utc":true},{"year":2008,"utc":true},{"year":2009,"utc":true},{"year":2010,"utc":true},{"year":2011,"utc":true},{"year":2012,"utc":true},{"year":2013,"utc":true},{"year":2014,"utc":true},{"year":2015,"utc":true},{"year":2016,"utc":true},{"year":2017,"utc":true},{"year":2018,"utc":true},{"year":2019,"utc":true},{"year":2020,"utc":true},{"year":2021,"utc":true},{"year":2022,"utc":true},{"year":2023,"utc":true},{"year":2024,"utc":true}], "grid": true, "labels": false, "ticks": false, "domain": false, "title": null}},
  "y": {"field": "vol", "type": "quantitative", "scale": {"domain": [-6500000, 160000000], "nice": false, "zero": false},
       "axis": {"orient": "right", "values": [40000000, 80000000, 120000000], "labelExpr": "format(datum.value / 1000000, '.1f') + ' M'", "grid": true, "ticks": false, "domain": false, "labelPadding": 4, "labelFontSize": 12.5, "labelOverlap": false, "title": null}},
  "y2": {"datum": 0},
  "color": {"field": "dir", "type": "nominal", "scale": {"domain": ["up", "down"], "range": ["#4cb04c", "#ff0000"]}, "legend": null}
 }},
{"mark": {"type": "bar", "width": 2},
 "encoding": {
  "x": {"field": "d", "type": "temporal"},
  "y": {"field": "vol", "type": "quantitative",
       "axis": {"orient": "right", "offset": 54, "labels": false, "ticks": false, "grid": false, "domain": true, "domainColor": "black", "domainWidth": 2, "title": null}},
  "y2": {"datum": 0},
  "color": {"field": "dir", "type": "nominal"}
 }}
]
},
{
"width": 772, "height": 31,
"data": {"name": "years"},
"layer": [
{"mark": {"type": "rule", "color": "black", "strokeWidth": 1},
 "encoding": {"x": {"field": "d", "type": "temporal", "scale": {"type": "utc", "domain": [{"year": 2004, "month": 4, "date": 25, "utc": true}, {"year": 2024, "month": 5, "date": 20, "utc": true}], "clamp": true},
   "axis": {"orient": "top", "offset": -17, "domain": true, "domainColor": "black", "domainWidth": 1.5, "ticks": false, "labels": false, "grid": false, "title": null}}}},
{"mark": {"type": "text", "align": "left", "baseline": "middle", "dx": {"expr": "datum.yr === '2024' ? -7 : datum.yr === '2004' ? 0 : 4"}, "dy": 8.5, "fontSize": 11.5, "color": "black", "font": "Liberation Sans"},
 "encoding": {"x": {"field": "d", "type": "temporal"}, "text": {"field": "yr"}}}
]
}
]
}
],
"config": {
 "view": {"stroke": "black", "strokeWidth": 2},
 "font": "Liberation Sans",
 "axis": {"labelFont": "Liberation Sans", "labelColor": "black", "gridColor": "#c8c8c8", "gridOpacity": 1, "gridWidth": 1, "labelOverlap": false}
}
}
